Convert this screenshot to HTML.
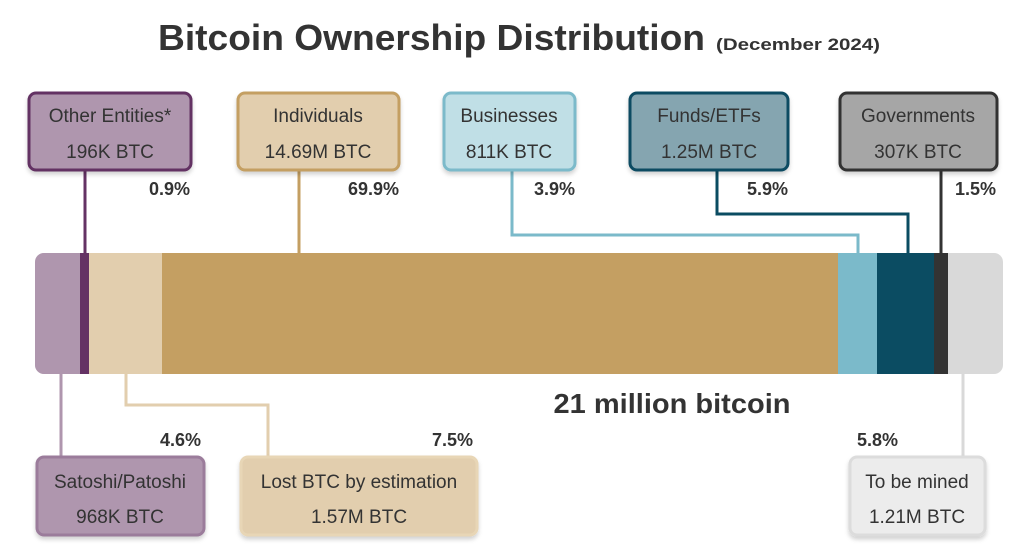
<!DOCTYPE html>
<html><head><meta charset="utf-8"><style>
html,body{margin:0;padding:0;background:#fff;}
svg{display:block;font-family:"Liberation Sans",sans-serif;}
</style></head><body>
<svg width="1024" height="555" viewBox="0 0 1024 555" xmlns="http://www.w3.org/2000/svg">
<defs><filter id="sh" x="-10%" y="-10%" width="120%" height="130%"><feDropShadow dx="0" dy="3" stdDeviation="2" flood-color="#000" flood-opacity="0.18"/></filter></defs>
<text x="158" y="50" font-size="36" font-weight="bold" fill="#333" textLength="547" lengthAdjust="spacingAndGlyphs">Bitcoin Ownership Distribution</text>
<text x="716" y="50" font-size="17" font-weight="bold" fill="#333" textLength="164" lengthAdjust="spacingAndGlyphs">(December 2024)</text>

<!-- bar -->
<rect x="35" y="253" width="968" height="121" rx="9" fill="#d9d9d9"/>
<path d="M44 253 H80 V374 H44 A9 9 0 0 1 35 365 V262 A9 9 0 0 1 44 253Z" fill="#af96ae"/>
<rect x="80" y="253" width="9" height="121" fill="#643264"/>
<rect x="89" y="253" width="73" height="121" fill="#e2ceae"/>
<rect x="162" y="253" width="676" height="121" fill="#c49f62"/>
<rect x="838" y="253" width="39" height="121" fill="#7bbaca"/>
<rect x="877" y="253" width="57" height="121" fill="#0b4c62"/>
<rect x="934" y="253" width="14" height="121" fill="#333"/>

<!-- connectors -->
<g fill="none" stroke-width="3">
<path d="M85 170 V253" stroke="#643264"/>
<path d="M299 170 V253" stroke="#c49f62"/>
<path d="M512 170 V235 H858 V253" stroke="#7bbaca"/>
<path d="M717 170 V214 H908 V253" stroke="#0b4c62"/>
<path d="M941 170 V253" stroke="#333"/>
<path d="M61 374 V457" stroke="#af96ae"/>
<path d="M126 374 V405 H268 V457" stroke="#e2ceae"/>
<path d="M963 374 V457" stroke="#d9d9d9"/>
</g>

<g filter="url(#sh)" stroke-width="3">
<rect x="29" y="93" width="162" height="77" rx="7" fill="#af96ae" stroke="#643264"/>
<rect x="238" y="93" width="161" height="77" rx="7" fill="#e2ceae" stroke="#c49f62"/>
<rect x="444" y="93" width="131" height="77" rx="7" fill="#c0dfe6" stroke="#7bbaca"/>
<rect x="630" y="93" width="158" height="77" rx="7" fill="#85a5b0" stroke="#0b4c62"/>
<rect x="840" y="93" width="157" height="77" rx="7" fill="#a6a6a6" stroke="#333"/>
<rect x="37" y="457" width="167" height="78" rx="7" fill="#af96ae" stroke="#9b7b9b"/>
<rect x="241" y="457" width="236" height="78" rx="7" fill="#e2ceae" stroke="#e8d6b6"/>
<rect x="850" y="457" width="135" height="78" rx="7" fill="#ececec" stroke="#dcdcdc"/>
</g>
<g font-size="19" fill="#333" text-anchor="middle">
<text x="110" y="122">Other Entities*</text><text x="110" y="158">196K BTC</text>
<text x="318" y="122">Individuals</text><text x="318" y="158">14.69M BTC</text>
<text x="509" y="122">Businesses</text><text x="509" y="158">811K BTC</text>
<text x="709" y="122">Funds/ETFs</text><text x="709" y="158">1.25M BTC</text>
<text x="918" y="122">Governments</text><text x="918" y="158">307K BTC</text>
<text x="120" y="488">Satoshi/Patoshi</text><text x="120" y="523">968K BTC</text>
<text x="359" y="488">Lost BTC by estimation</text><text x="359" y="523">1.57M BTC</text>
<text x="917" y="488">To be mined</text><text x="917" y="523">1.21M BTC</text>
</g>
<g font-size="18" font-weight="bold" fill="#333" text-anchor="end">
<text x="190" y="195">0.9%</text>
<text x="399" y="195">69.9%</text>
<text x="575" y="195">3.9%</text>
<text x="788" y="195">5.9%</text>
<text x="996" y="195">1.5%</text>
<text x="201" y="446">4.6%</text>
<text x="473" y="446">7.5%</text>
<text x="898" y="446">5.8%</text>
</g>
<text x="672" y="413" text-anchor="middle" font-size="28" font-weight="bold" fill="#333" textLength="237" lengthAdjust="spacingAndGlyphs">21 million bitcoin</text>
</svg>
</body></html>
